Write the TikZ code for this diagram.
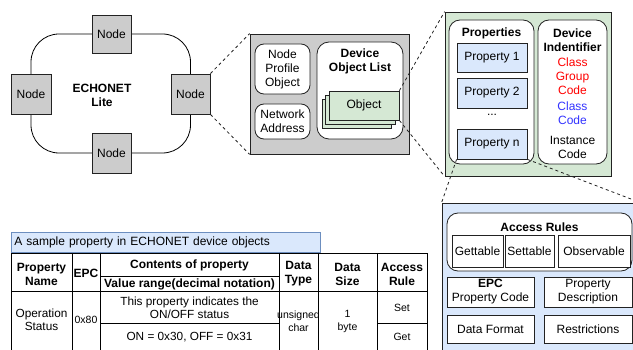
\documentclass[tikz,border=0pt]{standalone}
\usepackage{fontspec}
\setmainfont{Liberation Sans}
\usetikzlibrary{backgrounds}
\definecolor{gfill}{HTML}{CCCCCC}
\definecolor{grfill}{HTML}{D5E8D4}
\definecolor{blfill}{HTML}{DAE8FC}
\definecolor{capdraw}{HTML}{6C8EBF}
\definecolor{redtxt}{HTML}{FF0000}
\definecolor{bluetxt}{HTML}{3333FF}
\definecolor{edge}{HTML}{222222}
\begin{document}
\begin{tikzpicture}[x=1pt,y=-1pt,
  every node/.style={font=\fontsize{12}{14}\selectfont},
  bx/.style={draw=edge, line width=0.8pt, inner sep=0pt, align=center},
  nodebox/.style={bx, fill=gfill},
  rbox/.style={bx, fill=white, rounded corners=9pt},
  sbox/.style={bx, fill=white},
  gbox/.style={bx, fill=grfill},
  bbox/.style={bx, fill=blfill},
  lbl/.style={inner sep=0pt, align=center},
  blbl/.style={lbl, font=\fontsize{12}{14}\selectfont\bfseries},
  tl/.style={draw=black, line width=0.8pt},
  thd/.style={lbl, font=\fontsize{12}{14}\selectfont\bfseries},
  tbd/.style={lbl, font=\fontsize{11.8}{13}\selectfont},
  tsm/.style={lbl, font=\fontsize{10.5}{13}\selectfont},
  zoomline/.style={draw=edge, line width=0.8pt, dash pattern=on 3pt off 3pt}
]
\useasboundingbox (0,0) rectangle (633,350);
\clip (0,0) rectangle (633,350);

% ---- ECHONET Lite ring ----
\node[nodebox, minimum width=39pt, minimum height=38pt] (nT) at (111.5,34) {Node};
\node[nodebox, minimum width=40pt, minimum height=40pt] (nL) at (31,94) {Node};
\node[nodebox, minimum width=39pt, minimum height=40pt] (nR) at (190.5,94) {Node};
\node[nodebox, minimum width=39pt, minimum height=40pt] (nB) at (111.5,153) {Node};
\begin{scope}[on background layer]
  \draw[line width=0.8pt, rounded corners=28pt] (nL.center) |- (nT.center) -| (nR.center) |- (nB.center) -| (nL.center);
\end{scope}
\node[blbl] (ring) at (102,95) {ECHONET\\Lite};

% ---- Node contents (gray panel) ----
\node[bx, fill=gfill, minimum width=159pt, minimum height=120pt] (gp) at (329.5,94) {};
\node[rbox, minimum width=55pt, minimum height=50pt] (npo) at (282.5,69) {Node\\Profile\\Object};
\node[rbox, minimum width=55pt, minimum height=35pt] (na) at (282.5,121.5) {Network\\Address};
\node[rbox, rounded corners=12pt, minimum width=86pt, minimum height=97pt] (dol) at (360,90.5) {};
\node[blbl] (dolt) at (360,61.5) {Device\\Object List};
\node[gbox, minimum width=69pt, minimum height=29pt] (o3) at (356.5,113.5) {};
\node[gbox, minimum width=70pt, minimum height=29pt] (o2) at (360,109.5) {};
\node[gbox, minimum width=70pt, minimum height=29pt] (o1) at (364,105.5) {Object};

% ---- Device object (green panel) ----
\node[bx, fill=grfill, minimum width=166pt, minimum height=164pt] (gr) at (528,94) {};
\node[rbox, rounded corners=11pt, minimum width=85pt, minimum height=144pt] (props) at (491.5,92) {};
\node[blbl] (propst) at (491.5,33) {Properties};
\node[bbox, minimum width=70pt, minimum height=29pt] (p1) at (492,57.5) {Property 1};
\node[bbox, minimum width=70pt, minimum height=30pt] (p2) at (492,93) {Property 2};
\node[lbl] (pdots) at (492,115) {...};
\node[bbox, minimum width=70pt, minimum height=30pt] (pn) at (492,144) {Property n};
\node[rbox, rounded corners=11pt, minimum width=69pt, minimum height=144pt] (devid) at (572.5,92) {};
\node[blbl] (devidt) at (572.5,40) {Device\\Indentifier};
\node[lbl, text=redtxt] (cgc) at (572.5,76) {Class\\Group\\Code};
\node[lbl, text=bluetxt] (cc) at (572.5,113.5) {Class\\Code};
\node[lbl] (ic) at (572.5,147) {Instance\\Code};

% ---- Property (blue panel) ----
\node[bx, fill=blfill, minimum width=198pt, minimum height=157pt] (bp) at (541,281.5) {};
\node[rbox, rounded corners=11pt, minimum width=185pt, minimum height=58pt] (ar) at (539.5,242) {};
\node[blbl] (art) at (539.5,227) {Access Rules};
\node[sbox, minimum width=51pt, minimum height=32pt] (get) at (477.5,251) {Gettable};
\node[sbox, minimum width=49pt, minimum height=32pt] (set) at (529.5,251) {Settable};
\node[sbox, minimum width=72pt, minimum height=32pt] (obs) at (594,251) {Observable};
\node[sbox, minimum width=87pt, minimum height=30pt] (epc) at (490.5,292) {\textbf{EPC}\\Property Code};
\node[sbox, minimum width=88pt, minimum height=30pt] (pd) at (588,292) {Property\\Description};
\node[sbox, minimum width=87pt, minimum height=28pt] (df) at (490.5,329) {Data Format};
\node[sbox, minimum width=88pt, minimum height=28pt] (rs) at (588,329) {Restrictions};

% ---- zoom connectors ----
\draw[zoomline] (nR.north east) -- (gp.north west);
\draw[zoomline] (nR.south east) -- (gp.south west);
\draw[zoomline] (o1.north east) -- (gr.north west);
\draw[zoomline] (o1.south east) -- (gr.south west);
\draw[zoomline] (pn.south west) -- (bp.north west);
\draw[zoomline] (pn.south east) -- (bp.north east);

% ---- table ----
\node[bx, fill=blfill, draw=capdraw, minimum height=20pt, text width=303pt, inner xsep=3pt, align=left, anchor=west] (cap) at (11,242) {A sample property in ECHONET device objects};
\draw[tl] (11,253) rectangle (427,352);
\foreach \xx in {72,100,279,318,377} { \draw[tl] (\xx,253) -- (\xx,352); }
\draw[tl] (11,291) -- (427,291);
\draw[tl] (100,276) -- (279,276);
\draw[tl] (100,323) -- (279,323);
\draw[tl] (377,323) -- (427,323);

\node[thd] (hpn) at (41.5,274) {Property\\Name};
\node[thd] (hepc) at (86,273) {EPC};
\node[thd] (hcp) at (189.5,265) {Contents of property};
\node[thd] (hvr) at (189.5,284) {Value range(decimal notation)};
\node[thd] (hdt) at (298.5,274) {Data\\Type};
\node[thd] (hds) at (347.5,274) {Data\\Size};
\node[thd] (har) at (402,274) {Access\\Rule};

\node[tbd] (bos) at (41.5,320) {Operation\\Status};
\node[tsm] (b80) at (86,320) {0x80};
\node[tbd] (bdesc) at (189.5,308) {This property indicates the\\ON/OFF status};
\node[tbd] (bval) at (189.5,337) {ON = 0x30, OFF = 0x31};
\node[tsm] (btype) at (298.5,321) {unsigned\\char};
\node[tsm] (bsize) at (347.5,321) {1\\byte};
\node[tsm] (bset) at (402,308) {Set};
\node[tsm] (bget) at (402,337) {Get};
\end{tikzpicture}
\end{document}
